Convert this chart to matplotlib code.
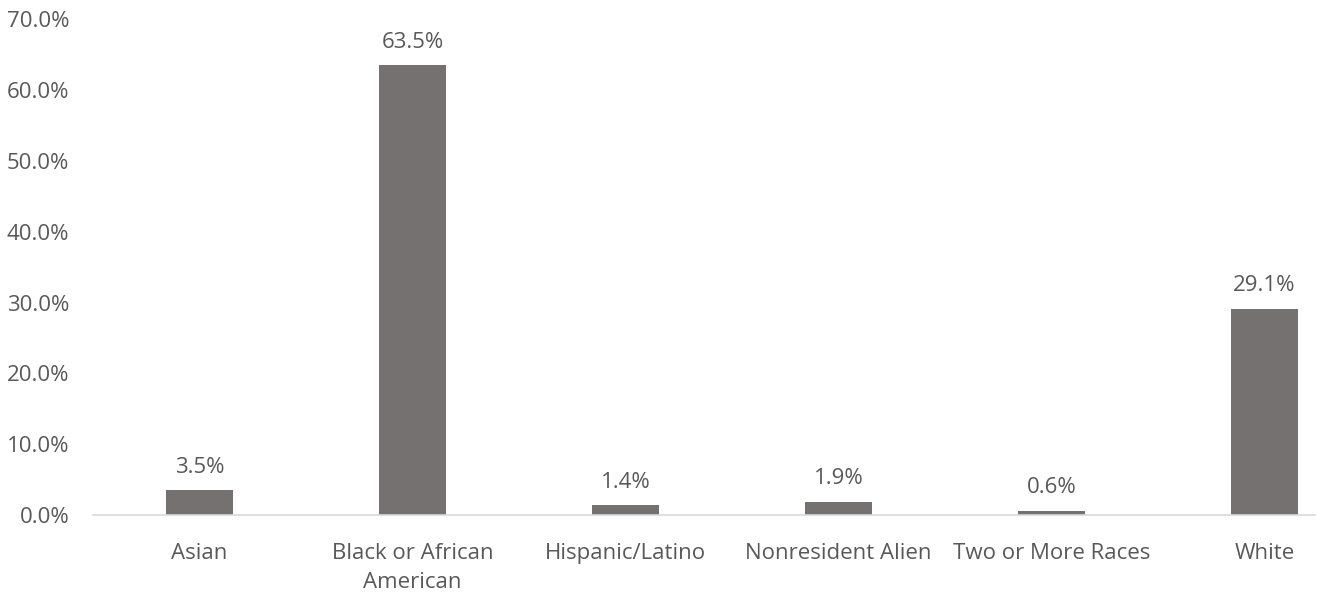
import matplotlib.pyplot as plt

# Data
categories = ["Asian", "Black or African\nAmerican", "Hispanic/Latino",
              "Nonresident Alien", "Two or More Races", "White"]
values = [3.5, 63.5, 1.4, 1.9, 0.6, 29.1]
yticks = [0, 10, 20, 30, 40, 50, 60, 70]

BAR = "#767171"
TXT = "#595959"
FS = 16

plt.rcParams['font.family'] = ['Open Sans', 'DejaVu Sans']

fig = plt.figure(figsize=(13.19, 5.93), dpi=100)
ax = fig.add_axes([93 / 1319, 1 - 515 / 593, (1315 - 93) / 1319, (515 - 19.4) / 593])

x = range(len(categories))
ax.bar(x, values, width=0.315, color=BAR, zorder=2)

for xi, v in zip(x, values):
    ax.annotate(f"{v:.1f}%", (xi, v), xytext=(0, 9), textcoords="offset points",
                ha="center", va="bottom", fontsize=FS, color=TXT)

ax.set_xlim(-0.5, 5.237)
ax.set_ylim(0, 70)
ax.set_yticks(yticks)
ax.set_yticklabels([f"{t:.1f}%" for t in yticks])
ax.set_xticks(list(x))
ax.set_xticklabels(categories, linespacing=1.5)

ax.tick_params(axis="y", length=0, pad=17, labelsize=FS, labelcolor=TXT)
ax.tick_params(axis="x", length=0, pad=20, labelsize=FS, labelcolor=TXT)

for s in ["top", "right", "left"]:
    ax.spines[s].set_visible(False)
ax.spines["bottom"].set_color("#D9D9D9")
ax.spines["bottom"].set_linewidth(1.2)

fig.savefig("out.png", dpi=100)
